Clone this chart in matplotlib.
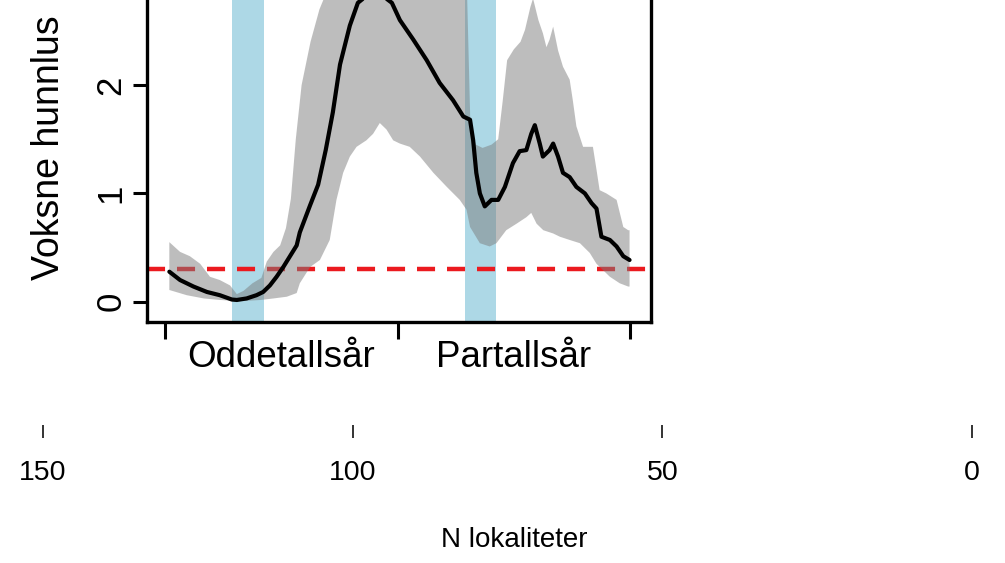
import numpy as np
import matplotlib
matplotlib.use("Agg")
import matplotlib.pyplot as plt

plt.rcParams['font.family'] = ['Liberation Sans', 'DejaVu Sans']

# Uke (0-104, to påfølgende år) og voksne hunnlus per fisk
mean_weeks = [0.9, 3.3, 6.3, 9.3, 12.2, 14.9, 16.0, 18.2, 20.4, 21.9, 23.4, 24.9,
              26.4, 27.9, 29.4, 30.1, 32.4, 34.2, 35.9, 37.5, 39.1, 41.3, 43.1,
              44.6, 46.9, 49.1, 50.7, 52.5, 55.5, 58.5, 61.4, 64.4, 66.7, 68.2,
              68.9, 69.6, 70.4, 71.5, 73.0, 74.5, 76.0, 77.8, 79.3, 80.8, 81.9,
              82.7, 83.8, 84.5, 86.0, 86.8, 87.9, 89.0, 90.5, 92.0, 93.9, 95.4,
              96.5, 97.6, 99.5, 101.0, 102.5, 103.9]
mean_vals = [0.277, 0.20, 0.14, 0.09, 0.06, 0.02, 0.016, 0.03, 0.06, 0.09, 0.15, 0.23,
             0.32, 0.42, 0.52, 0.64, 0.89, 1.08, 1.40, 1.75, 2.19, 2.55, 2.76,
             2.81, 2.82, 2.81, 2.76, 2.60, 2.42, 2.23, 2.02, 1.86, 1.71, 1.68,
             1.49, 1.19, 1.00, 0.88, 0.94, 0.94, 1.06, 1.28, 1.39, 1.40, 1.55,
             1.63, 1.46, 1.34, 1.40, 1.46, 1.34, 1.19, 1.15, 1.06, 1.00, 0.91,
             0.86, 0.60, 0.57, 0.51, 0.42, 0.385]

upper_weeks = [0.9, 3.3, 5.5, 7.8, 10.0, 12.2, 14.5, 16.0, 17.5, 19.5, 21.5, 22.7,
               24.2, 25.7, 27.0, 28.1, 29.2, 30.5, 32.5, 34.5, 36.0, 38.0, 42.0,
               48.0, 55.0, 62.0, 66.0, 67.5, 68.3, 69.5, 71.0, 73.0, 74.5, 75.5,
               76.5, 78.0, 79.5, 80.5, 81.7, 82.3, 83.5, 84.5, 85.3, 86.0, 86.8,
               87.9, 89.0, 90.5, 91.2, 92.0, 93.5, 95.7, 96.5, 97.2, 98.7, 101.0,
               102.5, 103.6, 103.9]
upper_vals = [0.55, 0.46, 0.42, 0.35, 0.23, 0.20, 0.15, 0.07, 0.10, 0.17, 0.22, 0.37,
              0.46, 0.52, 0.68, 0.95, 1.50, 2.00, 2.40, 2.70, 2.85, 3.00, 3.20,
              3.40, 3.30, 3.20, 3.00, 2.90, 1.60, 1.45, 1.42, 1.45, 1.50, 1.85,
              2.23, 2.33, 2.40, 2.51, 2.72, 2.80, 2.60, 2.48, 2.35, 2.42, 2.54,
              2.32, 2.17, 2.05, 1.86, 1.62, 1.43, 1.43, 1.22, 1.03, 1.00, 0.94,
              0.69, 0.66, 0.66]

lower_weeks = [0.9, 4.8, 8.6, 12.2, 16.0, 19.1, 21.4, 24.2, 27.2, 29.4, 30.1, 32.4,
               34.6, 36.8, 38.3, 39.8, 41.3, 42.8, 45.0, 46.5, 48.0, 49.5, 51.0,
               52.5, 54.7, 57.0, 60.0, 63.0, 65.9, 67.4, 68.2, 70.4, 72.6, 74.1,
               76.3, 78.6, 80.8, 81.9, 83.1, 84.6, 86.8, 88.3, 90.5, 92.8, 95.0,
               96.5, 98.0, 99.5, 101.7, 103.6, 103.9]
lower_vals = [0.108, 0.06, 0.03, 0.016, 0.006, 0.01, 0.016, 0.03, 0.046, 0.08, 0.17, 0.32,
              0.385, 0.57, 0.94, 1.19, 1.34, 1.43, 1.49, 1.55, 1.65, 1.59, 1.49,
              1.46, 1.43, 1.34, 1.19, 1.06, 0.94, 0.85, 0.69, 0.54, 0.51, 0.54,
              0.66, 0.72, 0.78, 0.82, 0.72, 0.66, 0.63, 0.60, 0.57, 0.54, 0.45,
              0.35, 0.29, 0.23, 0.17, 0.14, 0.14]

treatment_periods = [(15, 22), (67, 74)]
threshold = 0.3
year_ticks = [0, 52, 104]
year_label_pos = [26, 78]
year_labels = ['Oddetallsår', 'Partallsår']
n_ticks = [150, 100, 50, 0]

W, H = 1005, 563
fig = plt.figure(figsize=(W / 100, H / 100), dpi=100)

# main panel (its top edge sits above the canvas)
ax_l, ax_r, ax_b, ax_t = 147, 651, 321.7, -23.2
ax = fig.add_axes([ax_l / W, 1 - ax_b / H, (ax_r - ax_l) / W, (ax_b - ax_t) / H])
ax.set_xlim(-4.1, 108.7)
ax.set_ylim(-0.1847, 3.0)

for a, b in treatment_periods:
    ax.axvspan(a, b, color=(0.678, 0.847, 0.902), lw=0, zorder=1)

red_lw = 3.2
ax.axhline(threshold, color=(0.92, 0.1, 0.12), lw=red_lw,
           linestyle=(0, (13 / red_lw, 8.6 / red_lw)), zorder=2)

poly_x = np.concatenate([upper_weeks, lower_weeks[::-1]])
poly_y = np.concatenate([upper_vals, lower_vals[::-1]])
ax.fill(poly_x, poly_y, color=(0.49, 0.49, 0.49), alpha=0.5, lw=0, zorder=3)

ax.plot(mean_weeks, mean_vals, color='black', lw=3.0, zorder=4,
        solid_joinstyle='round', solid_capstyle='round')

for side in ['left', 'right', 'bottom', 'top']:
    ax.spines[side].set_linewidth(2.4)

ax.set_yticks([0, 1, 2])
ax.set_yticklabels(['0', '1', '2'], rotation=90, va='center')
ax.tick_params(axis='y', direction='out', length=10, width=2.2, labelsize=25, pad=4)

ax.set_xticks(year_ticks)
ax.set_xticklabels([])
ax.set_xticks(year_label_pos, minor=True)
ax.set_xticklabels(year_labels, minor=True)
ax.tick_params(axis='x', which='major', direction='out', length=12, width=2.2)
ax.tick_params(axis='x', which='minor', length=0, labelsize=26.5, pad=13)

fig.text(49 / W, 1 - 148 / H, 'Voksne hunnlus', rotation=90, ha='center',
         va='center', fontsize=27)

# secondary scale: number of sites
ax2 = fig.add_axes([20 / W, 1 - 425 / H, (990 - 20) / W, 0.0001])
ax2.set_xlim(150 + 23 * 150 / 929, -18 * 150 / 929)
ax2.set_ylim(0, 1)
for s in ax2.spines.values():
    s.set_visible(False)
ax2.set_yticks([])
ax2.patch.set_visible(False)
ax2.set_xticks(n_ticks)
ax2.set_xticklabels([str(v) for v in n_ticks])
ax2.tick_params(axis='x', direction='out', length=9.4, width=1.4, color='#333333',
                labelsize=20.5, pad=16)

fig.text(514 / W, 1 - 540 / H, 'N lokaliteter', ha='center', va='center', fontsize=20)

fig.savefig('out.png', dpi=100)
